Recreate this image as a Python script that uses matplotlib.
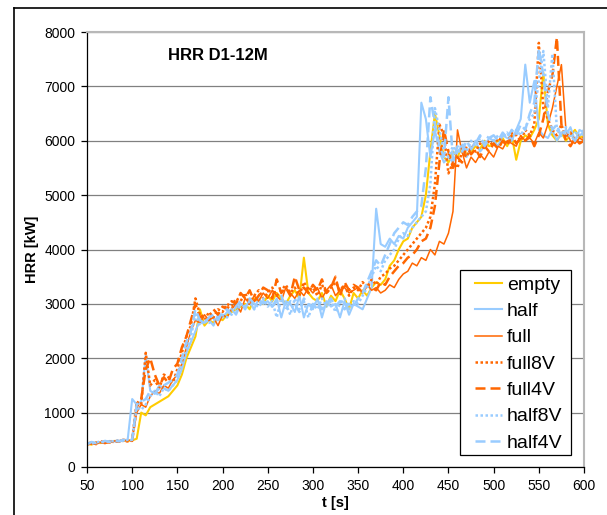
import numpy as np
import matplotlib.pyplot as plt
from matplotlib.lines import Line2D
from matplotlib.patches import Rectangle

plt.rcParams['font.family'] = ['Liberation Sans', 'DejaVu Sans']

# time axis, one sample every 5 s
t = list(range(50, 605, 5))

empty = [430, 410, 450, 440, 470, 460, 480, 470, 490, 480,
         490, 520, 1000, 950, 1100, 1150, 1200, 1250, 1300, 1400,
         1500, 1700, 2000, 2200, 2400, 2900, 2600, 2700, 2650, 2750,
         2700, 2800, 2850, 2900, 2950, 3000, 2900, 3100, 3050, 3000,
         3150, 3050, 3200, 3100, 3000, 3150, 3250, 3100, 3850, 3200,
         3100, 3050, 3200, 2950, 3150, 3050, 3250, 3100, 2900, 3200,
         3100, 3250, 3150, 3300, 3400, 3350, 3450, 3700, 3800, 4000,
         4150, 4200, 4400, 4500, 4600, 5000, 5800, 6500, 6100, 5700,
         5600, 5800, 5700, 5900, 5750, 5800, 5900, 5850, 6000, 5900,
         5950, 6000, 6050, 5900, 6100, 5650, 6000, 6100, 6050, 6200,
         6400, 7250, 6300, 6100, 6000, 6150, 6000, 6100, 6200, 6050,
         6100]

half = [420, 450, 430, 460, 440, 480, 470, 460, 490, 500,
        1250, 1150, 1200, 2050, 1400, 1350, 1500, 1450, 1400, 1500,
        1600, 1800, 2100, 2300, 2500, 2700, 2650, 2700, 2600, 2800,
        2750, 2850, 2900, 2800, 3000, 2950, 3050, 2900, 3100, 3000,
        3050, 2950, 3100, 2750, 3050, 3000, 2850, 3150, 2750, 3000,
        2900, 3100, 2750, 3050, 2950, 3000, 2750, 3050, 2800, 3000,
        2950, 2900, 3100, 3300, 4750, 4100, 4050, 4200, 4100, 4250,
        4200, 4400, 4500, 4600, 6700, 6400, 5700, 6200, 5800, 5600,
        5700, 5600, 5800, 5900, 5700, 5850, 6000, 5800, 5900, 6050,
        6000, 5900, 6100, 6050, 6000, 6200, 6400, 7400, 6700, 7100,
        6200, 6100, 6050, 6200, 6000, 6150, 6100, 6250, 6000, 6200,
        6150]

full = [440, 420, 460, 450, 430, 470, 480, 460, 490, 480,
        510, 1000, 1150, 1100, 1300, 1400, 1350, 1500, 1450, 1600,
        1700, 1900, 2200, 2500, 2700, 2650, 2800, 2700, 2750, 2600,
        2800, 2750, 2900, 3000, 2850, 3100, 3000, 3150, 3050, 3200,
        3100, 3250, 3150, 3050, 3300, 3200, 3100, 3250, 3150, 3300,
        3200, 3300, 3100, 3250, 3350, 3150, 3250, 3300, 3200, 3250,
        3300, 3200, 3350, 3250, 3300, 3200, 3250, 3350, 3300, 3450,
        3550, 3600, 3750, 3700, 3850, 3800, 4000, 3900, 4150, 4100,
        4300, 4700, 6200, 5800, 5500, 5700, 5600, 5750, 5650, 5800,
        5700, 5900, 5850, 6000, 5950, 5900, 6100, 6000, 6050, 5950,
        6150, 6050, 6300, 6600, 7000, 7400, 6200, 6000, 5950, 6050,
        6000]

full8V = [410, 440, 430, 460, 450, 470, 460, 490, 480, 470,
          500, 1200, 1150, 2100, 1500, 1600, 1450, 1700, 1650, 1550,
          1800, 2100, 2400, 2600, 3100, 2800, 2700, 2850, 2750, 2900,
          2850, 3000, 2950, 3100, 3050, 3200, 3000, 3150, 3250, 3100,
          3200, 3300, 3150, 3250, 3350, 3200, 3300, 3150, 3400, 3250,
          3300, 3150, 3350, 3200, 3300, 3400, 3250, 3350, 3150, 3300,
          3250, 3400, 3300, 3450, 3350, 3500, 3550, 3650, 3700, 3800,
          3900, 4000, 4100, 4200, 4300, 4400, 4600, 5200, 6300, 6100,
          5400, 5600, 5500, 5800, 5700, 5900, 5800, 5950, 5850, 6000,
          5900, 6050, 6000, 5950, 6150, 6100, 6000, 6200, 6100, 6300,
          7800, 6600, 6400, 6200, 6100, 6300, 6050, 6150, 6000, 6100,
          6050]

full4V = [430, 450, 420, 470, 460, 450, 480, 470, 500, 490,
          480, 1100, 1250, 1800, 2000, 1700, 1500, 1650, 1550, 1800,
          1900, 2200, 2400, 2700, 3000, 2750, 2800, 2700, 2900, 2800,
          2950, 2900, 3050, 3000, 3200, 3100, 3250, 3050, 3150, 3300,
          3250, 3100, 3450, 3200, 3300, 3150, 3500, 3250, 3300, 3200,
          3350, 3250, 3450, 3200, 3300, 3500, 3150, 3400, 3250, 3350,
          3300, 3200, 3350, 3300, 3250, 3400, 3350, 3500, 3600, 3700,
          3750, 3850, 3900, 4000, 4150, 4200, 4400, 4800, 5600, 6200,
          5800, 5500, 5700, 5600, 5900, 5750, 5850, 5700, 5900, 5800,
          5950, 5850, 6000, 5900, 6100, 5950, 6050, 6000, 6100, 5900,
          6100, 6400, 6900, 7200, 7900, 6300, 6000, 5900, 6050, 5950,
          6000]

half8V = [440, 430, 450, 470, 450, 480, 470, 490, 480, 500,
          510, 1100, 1050, 1150, 1300, 1400, 1300, 1450, 1400, 1500,
          1600, 1900, 2150, 2400, 2800, 2600, 2700, 2650, 2700, 2750,
          2800, 2750, 2900, 2850, 3000, 2950, 3050, 2900, 3000, 3100,
          2950, 3050, 2750, 3100, 3000, 2800, 3100, 2900, 3050, 2750,
          3000, 2900, 3100, 2950, 3050, 2850, 3000, 3100, 2900, 3050,
          3000, 3150, 3300, 3500, 3700, 3600, 3800, 3900, 4000, 4200,
          4300, 4250, 4400, 4500, 4600, 4700, 5200, 6600, 6200, 5800,
          5700, 5900, 5750, 5950, 5800, 6000, 5900, 6050, 5950, 6100,
          6000, 6100, 6050, 6150, 6000, 6200, 6100, 6250, 6400, 6500,
          7100, 7650, 6600, 7600, 6200, 6100, 6250, 6050, 6150, 6100,
          6200]

half4V = [420, 460, 440, 450, 480, 460, 490, 470, 500, 480,
          500, 1150, 1200, 1250, 1400, 1350, 1450, 1500, 1550, 1600,
          1700, 2000, 2300, 2500, 2900, 2700, 2650, 2750, 2800, 2700,
          2850, 2900, 2800, 2950, 3050, 2900, 3100, 3000, 2950, 3050,
          3000, 2950, 3050, 3150, 2900, 3050, 3000, 2850, 3100, 3000,
          2950, 3050, 2900, 3000, 3100, 2950, 3050, 2900, 3000, 2950,
          3100, 3200, 3400, 3600, 3800, 3700, 3900, 4100, 4300, 4400,
          4500, 4450, 4600, 4700, 4800, 5500, 6800, 6300, 5900, 5700,
          6800, 5650, 5900, 5800, 6000, 5850, 5950, 6100, 5900, 6050,
          6100, 6000, 6150, 6050, 6200, 6100, 6300, 6200, 6500, 6700,
          7700, 7200, 6500, 6200, 6300, 6050, 6200, 6100, 6000, 6150,
          6100]

yellow = "#FFCC00"
blue = "#99CCFF"
orange = "#FF6600"

fig = plt.figure(figsize=(6.07, 5.15), dpi=100)
# chart area frame
fig.add_artist(Line2D([13.5/607, 13.5/607], [0, 1-7.5/515], color="black", lw=1.2))
fig.add_artist(Line2D([13.5/607, 1], [1-7.5/515, 1-7.5/515], color="black", lw=1.2))

ax = fig.add_axes([87/607, 48/515, 497/607, 435/515])

ax.plot(t, empty, color=yellow, lw=1.5, label="empty")
ax.plot(t, half, color=blue, lw=1.5, label="half")
ax.plot(t, full, color=orange, lw=1.1, label="full")
ax.plot(t, full8V, color=orange, lw=1.8, ls=(0, (1, 1)), label="full8V")
ax.plot(t, full4V, color=orange, lw=1.8, ls=(0, (4, 2)), label="full4V")
ax.plot(t, half8V, color=blue, lw=1.8, ls=(0, (1, 1)), label="half8V")
ax.plot(t, half4V, color=blue, lw=1.8, ls=(0, (4, 2)), label="half4V")

ax.set_xlim(50, 600)
ax.set_ylim(0, 8000)
ax.set_xticks(range(50, 601, 50))
ax.set_yticks(range(0, 8001, 1000))
ax.yaxis.grid(True, color="#808080", lw=0.9)
ax.set_axisbelow(True)
ax.tick_params(direction="out", length=4.5, width=0.9, labelsize=10, pad=4)
for s in ["left", "bottom"]:
    ax.spines[s].set_color("black")
    ax.spines[s].set_linewidth(0.9)
for s in ["top", "right"]:
    ax.spines[s].set_color("#b8b8b8")
    ax.spines[s].set_linewidth(1.5)

ax.set_xlabel("t [s]", fontsize=10.5, fontweight="bold", labelpad=2)
ax.set_ylabel("HRR [kW]", fontsize=10.5, fontweight="bold", labelpad=4)
ax.text(139.5, 7560, "HRR D1-12M", fontsize=12, fontweight="bold", va="center")

# legend box drawn separately so the padding can be wider than tall
box = Rectangle((460/607, 1-455/515), 111/607, 185/515, transform=fig.transFigure,
                facecolor="white", edgecolor="black", lw=0.9, zorder=4.5, clip_on=False)
ax.add_patch(box)
leg = ax.legend(loc="upper left", bbox_to_anchor=(475/607, 1-276/515),
                bbox_transform=fig.transFigure, fontsize=14, frameon=False,
                handlelength=1.39, handletextpad=0.26, labelspacing=0.45,
                borderpad=0, borderaxespad=0)

plt.savefig("out.png", dpi=100)
